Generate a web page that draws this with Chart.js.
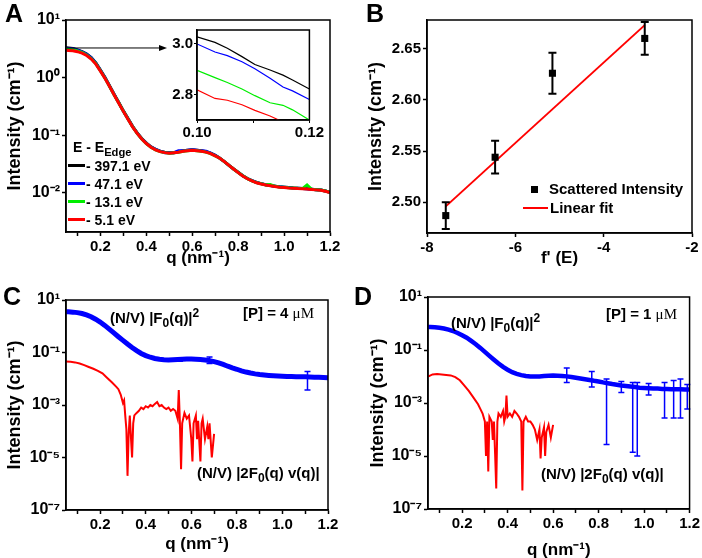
<!DOCTYPE html>
<html>
<head>
<meta charset="utf-8">
<script src="https://cdn.jsdelivr.net/npm/chart.js@4.4.1/dist/chart.umd.min.js"></script>
<style>
body { margin: 0; background: #fff; }
#page { position: relative; width: 702px; height: 558px; font-family: 'Liberation Sans', Arial, sans-serif; font-weight: bold; color: #000; }
canvas { position: absolute; }
.txt { position: absolute; white-space: nowrap; line-height: 18px; font-size: 15px; }
.leg { position: absolute; white-space: nowrap; line-height: 16px; font-size: 14px; }
.letter { position: absolute; font-size: 25px; line-height: 25px; }
.sub { font-size: 80%; vertical-align: -4px; }
.sup { font-size: 80%; vertical-align: 6px; }
.mu { font-family: 'Liberation Serif', serif; font-weight: normal; }
.sw { position: absolute; }
</style>
</head>
<body>
<div id="page">
  <canvas id="chartA" width="351" height="280" style="left:0;top:0"></canvas>
  <canvas id="chartInset" width="175" height="120" style="left:150px;top:20px"></canvas>
  <canvas id="chartB" width="351" height="280" style="left:351px;top:0"></canvas>
  <canvas id="chartC" width="351" height="278" style="left:0;top:280px"></canvas>
  <canvas id="chartD" width="351" height="278" style="left:351px;top:280px"></canvas>

  <div class="letter" style="left:5px;top:1px">A</div>
  <div class="letter" style="left:366px;top:1px">B</div>
  <div class="letter" style="left:3px;top:284px">C</div>
  <div class="letter" style="left:354px;top:284px">D</div>

  <!-- legend A -->
  <div class="leg" style="left:73px;top:139px">E - E<span class="sub">Edge</span></div>
  <div class="sw" style="left:68px;top:164px;width:17px;height:3px;background:#000"></div>
  <div class="leg" style="left:86px;top:158px">- 397.1 eV</div>
  <div class="sw" style="left:68px;top:182px;width:17px;height:3px;background:#0000ff"></div>
  <div class="leg" style="left:86px;top:176px">- 47.1 eV</div>
  <div class="sw" style="left:68px;top:200px;width:17px;height:3px;background:#00ee00"></div>
  <div class="leg" style="left:86px;top:194px">- 13.1 eV</div>
  <div class="sw" style="left:68px;top:218px;width:17px;height:3px;background:#ff0000"></div>
  <div class="leg" style="left:86px;top:212px">- 5.1 eV</div>

  <!-- legend B -->
  <div class="sw" style="left:531px;top:186px;width:7px;height:7px;background:#000"></div>
  <div class="txt" style="left:549px;top:180px">Scattered Intensity</div>
  <div class="sw" style="left:523px;top:207px;width:25px;height:2px;background:#ff0000"></div>
  <div class="txt" style="left:550px;top:199px">Linear fit</div>

  <!-- annotations C -->
  <div class="txt" style="left:110px;top:304px">(N/V) |F<span class="sub">0</span>(q)|<span class="sup">2</span></div>
  <div class="txt" style="left:243px;top:304px">[P] = 4 <span class="mu">μM</span></div>
  <div class="txt" style="left:197px;top:464px">(N/V) |2F<span class="sub">0</span>(q) v(q)|</div>

  <!-- annotations D -->
  <div class="txt" style="left:451px;top:309px">(N/V) |F<span class="sub">0</span>(q)|<span class="sup">2</span></div>
  <div class="txt" style="left:606px;top:305px">[P] = 1 <span class="mu">μM</span></div>
  <div class="txt" style="left:541px;top:465px">(N/V) |2F<span class="sub">0</span>(q) v(q)|</div>
</div>

<script>
// ---- panel A: intensity vs q at four energies ----
const aQ = [0.05,0.06,0.08,0.10,0.12,0.14,0.16,0.18,0.20,0.22,0.24,0.26,0.28,0.30,0.32,0.34,0.36,0.38,0.40,0.42,
  0.44,0.46,0.48,0.50,0.52,0.54,0.56,0.58,0.60,0.62,0.64,0.66,0.68,0.70,0.72,0.74,0.76,0.78,0.80,0.82,
  0.84,0.86,0.88,0.90,0.92,0.94,0.96,0.98,1.00,1.02,1.04,1.06,1.08,1.10,1.12,1.14,1.16,1.18,1.20];
const aBlack = [3.30,3.27,3.20,3.03,2.84,2.57,2.22,1.80,1.36,1.01,0.72,0.51,0.37,0.265,0.195,0.143,0.110,0.088,0.073,0.063,
  0.057,0.053,0.051,0.050,0.050,0.052,0.054,0.055,0.056,0.055,0.054,0.052,0.049,0.045,0.040,0.035,0.030,0.026,0.0228,0.0199,
  0.0178,0.0164,0.0152,0.0145,0.0139,0.0134,0.0131,0.0128,0.0126,0.0124,0.0122,0.0121,0.0119,0.0118,0.0116,0.0114,0.0112,0.0108,0.0103];
const aBlue = [3.25,3.22,3.16,3.00,2.80,2.55,2.20,1.78,1.34,1.00,0.71,0.51,0.365,0.262,0.193,0.142,0.109,0.087,0.073,0.063,
  0.057,0.053,0.050,0.050,0.050,0.054,0.054,0.055,0.056,0.055,0.054,0.053,0.049,0.045,0.040,0.035,0.030,0.026,0.0227,0.0199,
  0.0178,0.0163,0.0152,0.0145,0.0139,0.0134,0.0131,0.0128,0.0126,0.0124,0.0122,0.0121,0.0119,0.0118,0.0116,0.0114,0.0112,0.0108,0.0103];
const aGreen = [3.15,3.12,3.06,2.90,2.73,2.48,2.15,1.75,1.32,0.98,0.70,0.50,0.362,0.261,0.191,0.141,0.108,0.086,0.072,0.062,
  0.056,0.052,0.050,0.049,0.050,0.051,0.053,0.054,0.055,0.054,0.053,0.051,0.048,0.044,0.040,0.035,0.030,0.026,0.0226,0.0198,
  0.0177,0.0162,0.0151,0.0144,0.0138,0.0140,0.0130,0.0127,0.0125,0.0123,0.0122,0.0120,0.0119,0.0138,0.0116,0.0114,0.0112,0.0108,0.0103];
const aRed = [3.00,2.97,2.92,2.82,2.66,2.42,2.10,1.72,1.30,0.97,0.70,0.50,0.36,0.26,0.19,0.14,0.108,0.086,0.072,0.062,
  0.056,0.052,0.050,0.049,0.050,0.051,0.053,0.054,0.055,0.054,0.053,0.051,0.048,0.044,0.040,0.035,0.030,0.026,0.0225,0.0197,
  0.0176,0.0162,0.0150,0.0143,0.0137,0.0133,0.0129,0.0126,0.0124,0.0122,0.0121,0.0119,0.0118,0.0117,0.0115,0.0113,0.0111,0.0107,0.0102];

// inset of panel A (zoom on 0.10 - 0.12)
const insetQ = [0.100,0.1032,0.1054,0.1080,0.1103,0.1130,0.1153,0.1170,0.1200];
const insetBlack = [3.028,3.006,2.983,2.950,2.919,2.897,2.877,2.858,2.822];
const insetBlue = [3.000,2.968,2.954,2.930,2.902,2.865,2.830,2.815,2.781];
const insetGreen = [2.896,2.867,2.848,2.822,2.796,2.768,2.758,2.740,2.700];
const insetRed = [2.819,2.785,2.778,2.760,2.738,2.716,2.692,2.675,2.650];
const arrowQ = [0.054, 0.49];
const arrowI = 3.27;

// ---- panel B: intensity vs f'(E) ----
const bF = [-7.575, -6.458, -5.16, -3.07];
const bI = [2.487, 2.544, 2.626, 2.660];
const bErr = [0.013, 0.016, 0.020, 0.016];
const fitF = [-7.575, -3.07];
const fitI = [2.496, 2.673];

// ---- panels C and D: the |F0|^2 curves use the aQ grid ----
const cBlue = [3.6,3.55,3.45,3.3,3.05,2.7,2.3,1.85,1.45,1.08,0.78,0.56,0.40,0.29,0.21,0.155,0.118,0.092,0.076,0.066,
  0.059,0.055,0.053,0.052,0.053,0.054,0.055,0.056,0.056,0.055,0.054,0.052,0.049,0.045,0.040,0.035,0.030,0.026,0.023,0.020,
  0.018,0.0165,0.0153,0.0145,0.0139,0.0134,0.013,0.0127,0.0125,0.0123,0.0121,0.012,0.0119,0.0118,0.0117,0.0115,0.0113,0.0111,0.011];
const cErrQ = [0.55, 0.68, 1.11];
const cErrHi = [0.062, 0.068, 0.019];
const cErrLo = [0.046, 0.038, 0.0037];
const cRedQ = [0.05,0.07,0.09,0.11,0.13,0.15,0.17,0.19,0.21,0.23,0.25,0.27,0.28,0.29,0.30,0.305,0.31,0.315,0.32,0.325,
  0.33,0.335,0.34,0.345,0.35,0.36,0.37,0.38,0.39,0.40,0.41,0.42,0.43,0.44,0.45,0.46,0.47,0.48,0.49,0.50,
  0.51,0.52,0.53,0.54,0.545,0.55,0.555,0.56,0.57,0.58,0.59,0.60,0.605,0.61,0.62,0.625,0.63,0.64,0.645,0.65,
  0.66,0.67,0.675,0.68,0.69,0.70];
const cRed = [0.045,0.044,0.042,0.038,0.033,0.028,0.024,0.020,0.016,0.011,0.0075,0.005,0.004,0.0025,0.0012,0.0015,0.0004,0.00012,0.000002,0.00008,
  0.0004,0.00006,0.00001,0.0002,0.0004,0.0005,0.0006,0.0008,0.0007,0.0009,0.0008,0.001,0.0009,0.0011,0.0013,0.0009,0.001,0.0008,0.0007,0.0008,
  0.0006,0.0007,0.0006,0.0003,0.0037,0.0002,0.0000036,0.0002,0.0005,0.0003,0.0004,0.00005,0.000007,0.0002,0.0004,0.00005,0.00025,0.000007,0.0002,0.0003,
  0.00005,0.00015,0.00005,0.0002,0.00001,0.00008];

const dBlue = [0.74,0.74,0.72,0.69,0.65,0.59,0.52,0.44,0.36,0.29,0.22,0.165,0.12,0.085,0.060,0.043,0.031,0.023,0.018,0.0145,
  0.0125,0.0113,0.0105,0.0101,0.0100,0.0101,0.0104,0.0107,0.0108,0.0107,0.0105,0.0101,0.0096,0.0090,0.0084,0.0079,0.0074,0.0069,0.0065,0.0060,
  0.0056,0.0052,0.0049,0.0046,0.0044,0.0042,0.0040,0.0038,0.0037,0.0036,0.0035,0.0035,0.0034,0.0034,0.0033,0.0033,0.0033,0.0032,0.0032];
const dErrQ = [0.66, 0.77, 0.835, 0.90, 0.95, 0.97, 1.02, 1.09, 1.13, 1.16, 1.19];
const dErrHi = [0.021, 0.0155, 0.008, 0.0065, 0.006, 0.006, 0.0055, 0.006, 0.007, 0.008, 0.005];
const dErrLo = [0.006, 0.004, 0.000027, 0.0025, 0.000014, 0.00001, 0.002, 0.00027, 0.00027, 0.00027, 0.0006];
const dRedQ = [0.05,0.07,0.09,0.11,0.13,0.15,0.17,0.19,0.21,0.23,0.25,0.27,0.28,0.29,0.30,0.305,0.31,0.315,0.32,0.33,
  0.335,0.34,0.345,0.35,0.355,0.36,0.37,0.38,0.385,0.39,0.395,0.40,0.41,0.42,0.43,0.44,0.45,0.46,0.465,0.47,
  0.48,0.49,0.50,0.51,0.52,0.53,0.54,0.545,0.55,0.56,0.565,0.57,0.58,0.59,0.60];
const dRed = [0.010,0.012,0.0125,0.012,0.0115,0.011,0.0095,0.0072,0.0045,0.0028,0.0016,0.0009,0.0006,0.0004,0.0002,0.00001,0.0002,0.0000026,0.0003,0.0002,
  0.00004,0.0002,0.000012,0.0000006,0.0002,0.0004,0.0003,0.0005,0.0002,0.0003,0.0019,0.0003,0.0004,0.0003,0.0005,0.0004,0.0003,0.0002,0.0000005,0.0002,
  0.0003,0.0002,0.0002,0.00015,0.0001,0.00004,0.0001,0.000008,0.00005,0.00012,0.00001,0.00008,0.00015,0.00005,0.00015];

// tick labels
const qTicks = [0.1,0.2,0.3,0.4,0.5,0.6,0.7,0.8,0.9,1.0,1.1,1.2];
const qTickLabels = ['','0.2','','0.4','','0.6','','0.8','','1.0','','1.2'];
const aLogTicks = [10, 1, 0.1, 0.01];
const cdLogTicks = [10, 0.1, 1e-3, 1e-5, 1e-7];
const bFTicks = [-8, -6, -4, -2];
const bITicks = [2.50, 2.55, 2.60, 2.65];
const insetQTicks = [0.10, 0.11, 0.12];
const insetQLabels = ['0.10', '', '0.12'];
const insetITicks = [2.8, 3.0];

Chart.defaults.font.family = "'Liberation Sans', Arial, sans-serif";
Chart.defaults.font.weight = 'bold';
Chart.defaults.color = '#000';

const supChars = {'-':'⁻','0':'⁰','1':'¹','2':'²','3':'³','4':'⁴','5':'⁵','6':'⁶','7':'⁷','8':'⁸','9':'⁹'};
function powLabel(v) {
    const e = Math.round(Math.log10(v));
    return '10' + String(e).split('').map(c => supChars[c]).join('');
}
function pts(xs, ys) {
    return xs.map((x, i) => ({ x: x, y: ys[i] }));
}

const framePlugin = {
    id: 'frame',
    afterDraw(chart) {
        const { ctx, chartArea: a } = chart;
        ctx.save();
        ctx.strokeStyle = '#000';
        ctx.lineWidth = 1.5;
        ctx.strokeRect(a.left, a.top, a.right - a.left, a.bottom - a.top);
        ctx.restore();
    }
};

const errorBarPlugin = {
    id: 'errorBars',
    afterDatasetsDraw(chart, args, opts) {
        const sx = chart.scales.x, sy = chart.scales.y, ctx = chart.ctx;
        (opts.sets || []).forEach(set => {
            ctx.save();
            ctx.strokeStyle = set.color;
            ctx.lineWidth = set.width;
            set.x.forEach((xv, i) => {
                const px = sx.getPixelForValue(xv);
                const top = sy.getPixelForValue(set.hi[i]);
                const bot = sy.getPixelForValue(set.lo[i]);
                ctx.beginPath();
                ctx.moveTo(px, top); ctx.lineTo(px, bot);
                ctx.moveTo(px - set.cap, top); ctx.lineTo(px + set.cap, top);
                ctx.moveTo(px - set.cap, bot); ctx.lineTo(px + set.cap, bot);
                ctx.stroke();
            });
            ctx.restore();
        });
    }
};

const arrowPlugin = {
    id: 'arrow',
    afterDatasetsDraw(chart, args, opts) {
        if (!opts.q) return;
        const sx = chart.scales.x, sy = chart.scales.y, ctx = chart.ctx;
        const x0 = sx.getPixelForValue(opts.q[0]), x1 = sx.getPixelForValue(opts.q[1]);
        const y = sy.getPixelForValue(opts.i);
        ctx.save();
        ctx.strokeStyle = '#000'; ctx.fillStyle = '#000'; ctx.lineWidth = 1;
        ctx.beginPath(); ctx.moveTo(x0, y); ctx.lineTo(x1 - 6, y); ctx.stroke();
        ctx.beginPath(); ctx.moveTo(x1, y); ctx.lineTo(x1 - 8, y - 3); ctx.lineTo(x1 - 8, y + 3); ctx.closePath(); ctx.fill();
        ctx.restore();
    }
};

function axisBase() {
    return {
        grid: { drawOnChartArea: false, tickLength: 4, color: '#000', tickWidth: 1.5 },
        border: { color: '#000', width: 1.5 }
    };
}

function qAxis(height, titlePad) {
    return Object.assign(axisBase(), {
        type: 'linear', min: 0.05, max: 1.2,
        afterBuildTicks: s => { s.ticks = qTicks.map(v => ({ value: v })); },
        afterFit: s => { s.height = height; },
        ticks: { autoSkip: false, maxRotation: 0, padding: 2, font: { size: 15, weight: 'bold' },
                 callback: (v, i) => qTickLabels[i] },
        title: { display: true, text: 'q (nm⁻¹)', font: { size: 17, weight: 'bold' }, padding: { top: 0, bottom: titlePad } }
    });
}

function logAxis(min, tickVals, width, titlePad) {
    return Object.assign(axisBase(), {
        type: 'logarithmic', min: min, max: 10,
        afterBuildTicks: s => { s.ticks = tickVals.map(v => ({ value: v })); },
        afterFit: s => { s.width = width; },
        ticks: { autoSkip: false, padding: 2, font: { size: 16, weight: 'bold' }, callback: v => powLabel(v) },
        title: { display: true, text: 'Intensity (cm⁻¹)', font: { size: 18, weight: 'bold' }, padding: { top: titlePad, bottom: 0 } }
    });
}

// order: lower value is drawn on top
function lineSet(xs, ys, color, width, order) {
    return { data: pts(xs, ys), borderColor: color, borderWidth: width, pointRadius: 0, fill: false, tension: 0, order: order || 0 };
}

function baseOptions(padding, scales, pluginOpts) {
    return {
        responsive: false, animation: false, events: [],
        layout: { padding: padding },
        scales: scales,
        plugins: Object.assign({ legend: { display: false }, tooltip: { enabled: false } }, pluginOpts || {})
    };
}

// Panel A
new Chart(document.getElementById('chartA'), {
    type: 'line',
    data: { datasets: [
        lineSet(aQ, aBlack, '#000000', 3, 4),
        lineSet(aQ, aBlue, '#0000ff', 3, 3),
        lineSet(aQ, aGreen, '#00ee00', 3, 2),
        lineSet(aQ, aRed, '#ff0000', 3, 1)
    ] },
    options: baseOptions({ top: 20, right: 21, left: 0, bottom: 0 },
        { x: qAxis(48, 11), y: logAxis(0.0021, aLogTicks, 66, 4) },
        { arrow: { q: arrowQ, i: arrowI } }),
    plugins: [framePlugin, arrowPlugin]
});

// Inset of A
new Chart(document.getElementById('chartInset'), {
    type: 'line',
    data: { datasets: [
        lineSet(insetQ, insetBlack, '#000000', 1.2, 4),
        lineSet(insetQ, insetBlue, '#0000ff', 1.2, 3),
        lineSet(insetQ, insetGreen, '#00ee00', 1.2, 2),
        lineSet(insetQ, insetRed, '#ff0000', 1.2, 1)
    ] },
    options: baseOptions({ top: 8, right: 7, left: 0, bottom: 0 }, {
        x: Object.assign(axisBase(), {
            type: 'linear', min: 0.10, max: 0.12,
            afterBuildTicks: s => { s.ticks = insetQTicks.map(v => ({ value: v })); },
            afterFit: s => { s.height = 20; },
            grid: { drawOnChartArea: false, tickLength: 3, color: '#000' },
            ticks: { autoSkip: false, maxRotation: 0, padding: 1, font: { size: 15, weight: 'bold' }, callback: (v, i) => insetQLabels[i] }
        }),
        y: Object.assign(axisBase(), {
            type: 'linear', min: 2.70, max: 3.055,
            afterBuildTicks: s => { s.ticks = insetITicks.map(v => ({ value: v })); },
            afterFit: s => { s.width = 47; },
            grid: { drawOnChartArea: false, tickLength: 3, color: '#000' },
            ticks: { padding: 1, font: { size: 15, weight: 'bold' }, callback: v => v.toFixed(1) }
        })
    }),
    plugins: [framePlugin]
});

// Panel B
new Chart(document.getElementById('chartB'), {
    type: 'line',
    data: { datasets: [
        { data: pts(bF, bI), showLine: false, pointStyle: 'rect', pointRadius: 5,
          backgroundColor: '#000', borderColor: '#000', borderWidth: 0, order: 0 },
        lineSet(fitF, fitI, '#ff0000', 2, 1)
    ] },
    options: baseOptions({ top: 20, right: 10, left: 0, bottom: 0 }, {
        x: Object.assign(axisBase(), {
            type: 'linear', min: -8, max: -2,
            afterBuildTicks: s => { s.ticks = bFTicks.map(v => ({ value: v })); },
            afterFit: s => { s.height = 47; },
            ticks: { autoSkip: false, maxRotation: 0, padding: 2, font: { size: 15, weight: 'bold' }, callback: v => String(v) },
            title: { display: true, text: "f' (E)", font: { size: 17, weight: 'bold' }, padding: { top: 0, bottom: 11 } }
        }),
        y: Object.assign(axisBase(), {
            type: 'linear', min: 2.47, max: 2.678,
            afterBuildTicks: s => { s.ticks = bITicks.map(v => ({ value: v })); },
            afterFit: s => { s.width = 76; },
            ticks: { padding: 2, font: { size: 15, weight: 'bold' }, callback: v => v.toFixed(2) },
            title: { display: true, text: 'Intensity (cm⁻¹)', font: { size: 18, weight: 'bold' }, padding: { top: 14, bottom: 0 } }
        })
    }, { errorBars: { sets: [{ x: bF, lo: bI.map((v, i) => v - bErr[i]), hi: bI.map((v, i) => v + bErr[i]),
                                color: '#000', width: 2, cap: 4 }] } }),
    plugins: [framePlugin, errorBarPlugin]
});

// Panel C
new Chart(document.getElementById('chartC'), {
    type: 'line',
    data: { datasets: [
        lineSet(aQ, cBlue, '#0000ff', 5, 0),
        lineSet(cRedQ, cRed, '#ff0000', 2, 1)
    ] },
    options: baseOptions({ top: 20, right: 23, left: 0, bottom: 0 },
        { x: qAxis(48, 3), y: logAxis(1e-7, cdLogTicks, 66, 4) },
        { errorBars: { sets: [{ x: cErrQ, lo: cErrLo, hi: cErrHi, color: '#0000ff', width: 1.5, cap: 3 }] } }),
    plugins: [framePlugin, errorBarPlugin]
});

// Panel D
new Chart(document.getElementById('chartD'), {
    type: 'line',
    data: { datasets: [
        lineSet(aQ, dBlue, '#0000ff', 4.5, 0),
        lineSet(dRedQ, dRed, '#ff0000', 2, 1)
    ] },
    options: baseOptions({ top: 17, right: 11, left: 0, bottom: 0 },
        { x: qAxis(49, -3), y: logAxis(1e-7, cdLogTicks, 77, 16) },
        { errorBars: { sets: [{ x: dErrQ, lo: dErrLo, hi: dErrHi, color: '#0000ff', width: 1.5, cap: 3 }] } }),
    plugins: [framePlugin, errorBarPlugin]
});
</script>
</body>
</html>
